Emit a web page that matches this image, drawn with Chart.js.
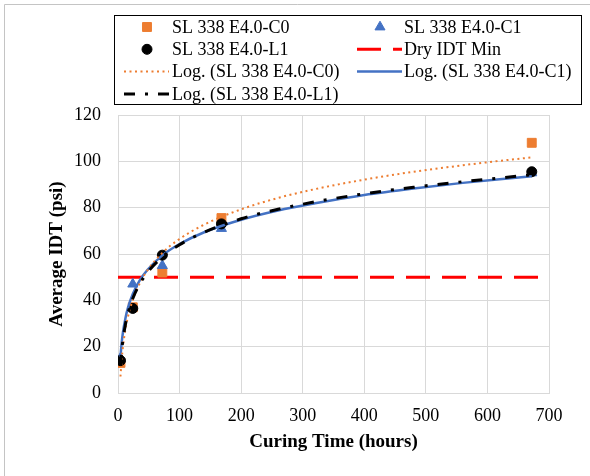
<!DOCTYPE html>
<html>
<head>
<meta charset="utf-8">
<title>Average IDT vs Curing Time</title>
<script src="https://cdn.jsdelivr.net/npm/chart.js@4.4.1/dist/chart.umd.min.js"></script>
<style>
  html, body { margin: 0; padding: 0; background: #fff; }
  #contenedor { width: 590px; height: 476px; }
</style>
</head>
<body>
<div id="contenedor"><canvas id="grafica" width="590" height="476"></canvas></div>
<script>
// ── Datos de ensayo ───────────────────────────────────────
const horas = [4, 24, 72, 168, 672];
const idtC0 = [13, 37, 52, 75.5, 108];
const idtC1 = [15, 47, 55, 71, 95];
const idtL1 = [14, 36.5, 59.5, 73, 95.5];
const idtMinSeco = 50;

// curvas de tendencia log.
const horasTend = [4, 6, 8, 12, 16, 24, 36, 48, 72, 100, 140, 200, 260, 320, 400, 480, 560, 620, 672];
const tendC0 = [7.1, 14.6, 19.9, 27.4, 32.7, 40.2, 47.7, 53.0, 60.5, 66.5, 72.7, 79.3, 84.2, 88.0, 92.1, 95.5, 98.3, 100.2, 101.7];
const tendC1 = [15.6, 21.7, 26.1, 32.2, 36.6, 42.7, 48.9, 53.2, 59.4, 64.3, 69.4, 74.8, 78.8, 81.9, 85.5, 88.3, 90.7, 92.3, 93.6];
const tendL1 = [11.7, 18.3, 22.9, 29.5, 34.2, 40.8, 47.4, 52.1, 58.7, 64.0, 69.4, 75.2, 79.3, 82.5, 86.0, 88.8, 91.2, 92.8, 94.2];

// ── Ejes ──────────────────────────────────────────────────
const ejeX = { min: 0, max: 700, paso: 100 };
const ejeY = { min: 0, max: 120, paso: 20 };

const etiquetas = [
  'SL 338 E4.0-C0', 'SL 338 E4.0-C1',
  'SL 338 E4.0-L1', 'Dry IDT Min',
  'Log. (SL 338 E4.0-C0)', 'Log. (SL 338 E4.0-C1)',
  'Log. (SL 338 E4.0-L1)'
];

const NARANJA = '#ED7D31';
const AZUL = '#4472C4';
const ROJO = '#FF0000';
const GRIS = '#d9d9d9';
const FUENTE = '"Liberation Serif", "Times New Roman", serif';

const puntos = (xs, ys) => xs.map((x, i) => ({ x, y: ys[i] }));

// ── Plugins: marco exterior y leyenda en dos columnas ─────
const marco = {
  id: 'marco',
  beforeDraw(chart) {
    const ctx = chart.ctx;
    ctx.save();
    ctx.fillStyle = '#fff';
    ctx.fillRect(0, 0, chart.width, chart.height);
    ctx.strokeStyle = '#c4c4c4';
    ctx.lineWidth = 1;
    ctx.beginPath();
    ctx.moveTo(4.5, chart.height);
    ctx.lineTo(4.5, 4.5);
    ctx.lineTo(chart.width, 4.5);
    ctx.stroke();
    ctx.restore();
  }
};

const leyenda = {
  id: 'leyenda',
  afterDraw(chart) {
    const ctx = chart.ctx;
    ctx.save();
    ctx.fillStyle = '#fff';
    ctx.fillRect(114.5, 15.5, 467, 89);
    ctx.strokeStyle = '#000';
    ctx.lineWidth = 1;
    ctx.strokeRect(114.5, 15.5, 467, 89);
    ctx.font = '18px ' + FUENTE;
    ctx.textBaseline = 'middle';
    chart.data.datasets.forEach((ds, i) => {
      const col = i % 2;
      const fila = Math.floor(i / 2);
      const x0 = col ? 357 : 124;
      const xt = col ? 404 : 172;
      const y = 27 + fila * 22.3;
      ctx.save();
      if (ds.showLine) {
        ctx.strokeStyle = ds.borderColor;
        ctx.lineWidth = ds.borderWidth;
        ctx.setLineDash(ds.borderDash || []);
        ctx.beginPath();
        ctx.moveTo(x0, y);
        ctx.lineTo(x0 + 45, y);
        ctx.stroke();
      } else {
        ctx.fillStyle = ds.backgroundColor;
        ctx.strokeStyle = ds.borderColor;
        Chart.helpers.drawPoint(ctx, {
          pointStyle: ds.pointStyle, radius: ds.pointRadius, rotation: 0, borderWidth: 1
        }, x0 + 23, y);
      }
      ctx.restore();
      ctx.fillStyle = '#000';
      ctx.fillText(ds.label, xt, y + 1);
    });
    ctx.restore();
  }
};

// ── Grafica ───────────────────────────────────────────────
function crearGrafica() {
  const canvas = document.getElementById('grafica');

  const serie = (label, ys, estilo, radio, color, orden) => ({
    label, data: puntos(horas, ys), showLine: false,
    pointStyle: estilo, pointRadius: radio, pointHoverRadius: radio,
    backgroundColor: color, borderColor: color, pointBorderWidth: 1, order: orden
  });
  const linea = (label, data, color, ancho, guion, orden) => ({
    label, data, showLine: true, pointRadius: 0, pointHoverRadius: 0,
    borderColor: color, backgroundColor: color, borderWidth: ancho,
    borderDash: guion, cubicInterpolationMode: 'monotone', order: orden
  });

  new Chart(canvas, {
    type: 'scatter',
    data: {
      datasets: [
        serie(etiquetas[0], idtC0, 'rect', 6.3, NARANJA, 5),
        serie(etiquetas[1], idtC1, 'triangle', 5.8, AZUL, 4),
        serie(etiquetas[2], idtL1, 'circle', 5, '#000', 3),
        linea(etiquetas[3], [{ x: ejeX.min, y: idtMinSeco }, { x: ejeX.max, y: idtMinSeco }], ROJO, 3, [24, 12], 6),
        linea(etiquetas[4], puntos(horasTend, tendC0), NARANJA, 2, [2, 3.5], 1),
        linea(etiquetas[5], puntos(horasTend, tendC1), AZUL, 2.5, [], 1),
        linea(etiquetas[6], puntos(horasTend, tendL1), '#000', 3, [11, 10, 3, 10], 0)
      ]
    },
    options: {
      responsive: false,
      animation: false,
      events: [],
      layout: { padding: { top: 115, right: 41, left: 0, bottom: 0 } },
      plugins: {
        legend: { display: false },
        tooltip: { enabled: false }
      },
      scales: {
        x: {
          type: 'linear', min: ejeX.min, max: ejeX.max,
          afterFit(scale) { scale.height = 83; },
          ticks: { stepSize: ejeX.paso, color: '#000', padding: 12, font: { family: FUENTE, size: 18 } },
          grid: { color: GRIS, drawTicks: false },
          border: { color: GRIS },
          title: {
            display: true, text: 'Curing Time (hours)', color: '#000',
            font: { family: FUENTE, size: 19, weight: 'bold' },
            padding: { top: 0, bottom: 23 }
          }
        },
        y: {
          min: ejeY.min, max: ejeY.max,
          afterFit(scale) { scale.width = 118; },
          ticks: { stepSize: ejeY.paso, color: '#000', padding: 17, font: { family: FUENTE, size: 18 } },
          grid: { color: GRIS, drawTicks: false },
          border: { color: GRIS },
          title: {
            display: true, text: 'Average IDT (psi)', color: '#000',
            font: { family: FUENTE, size: 19, weight: 'bold' },
            padding: { top: 46, bottom: 0 }
          }
        }
      }
    },
    plugins: [marco, leyenda]
  });
}

crearGrafica();
</script>
</body>
</html>
